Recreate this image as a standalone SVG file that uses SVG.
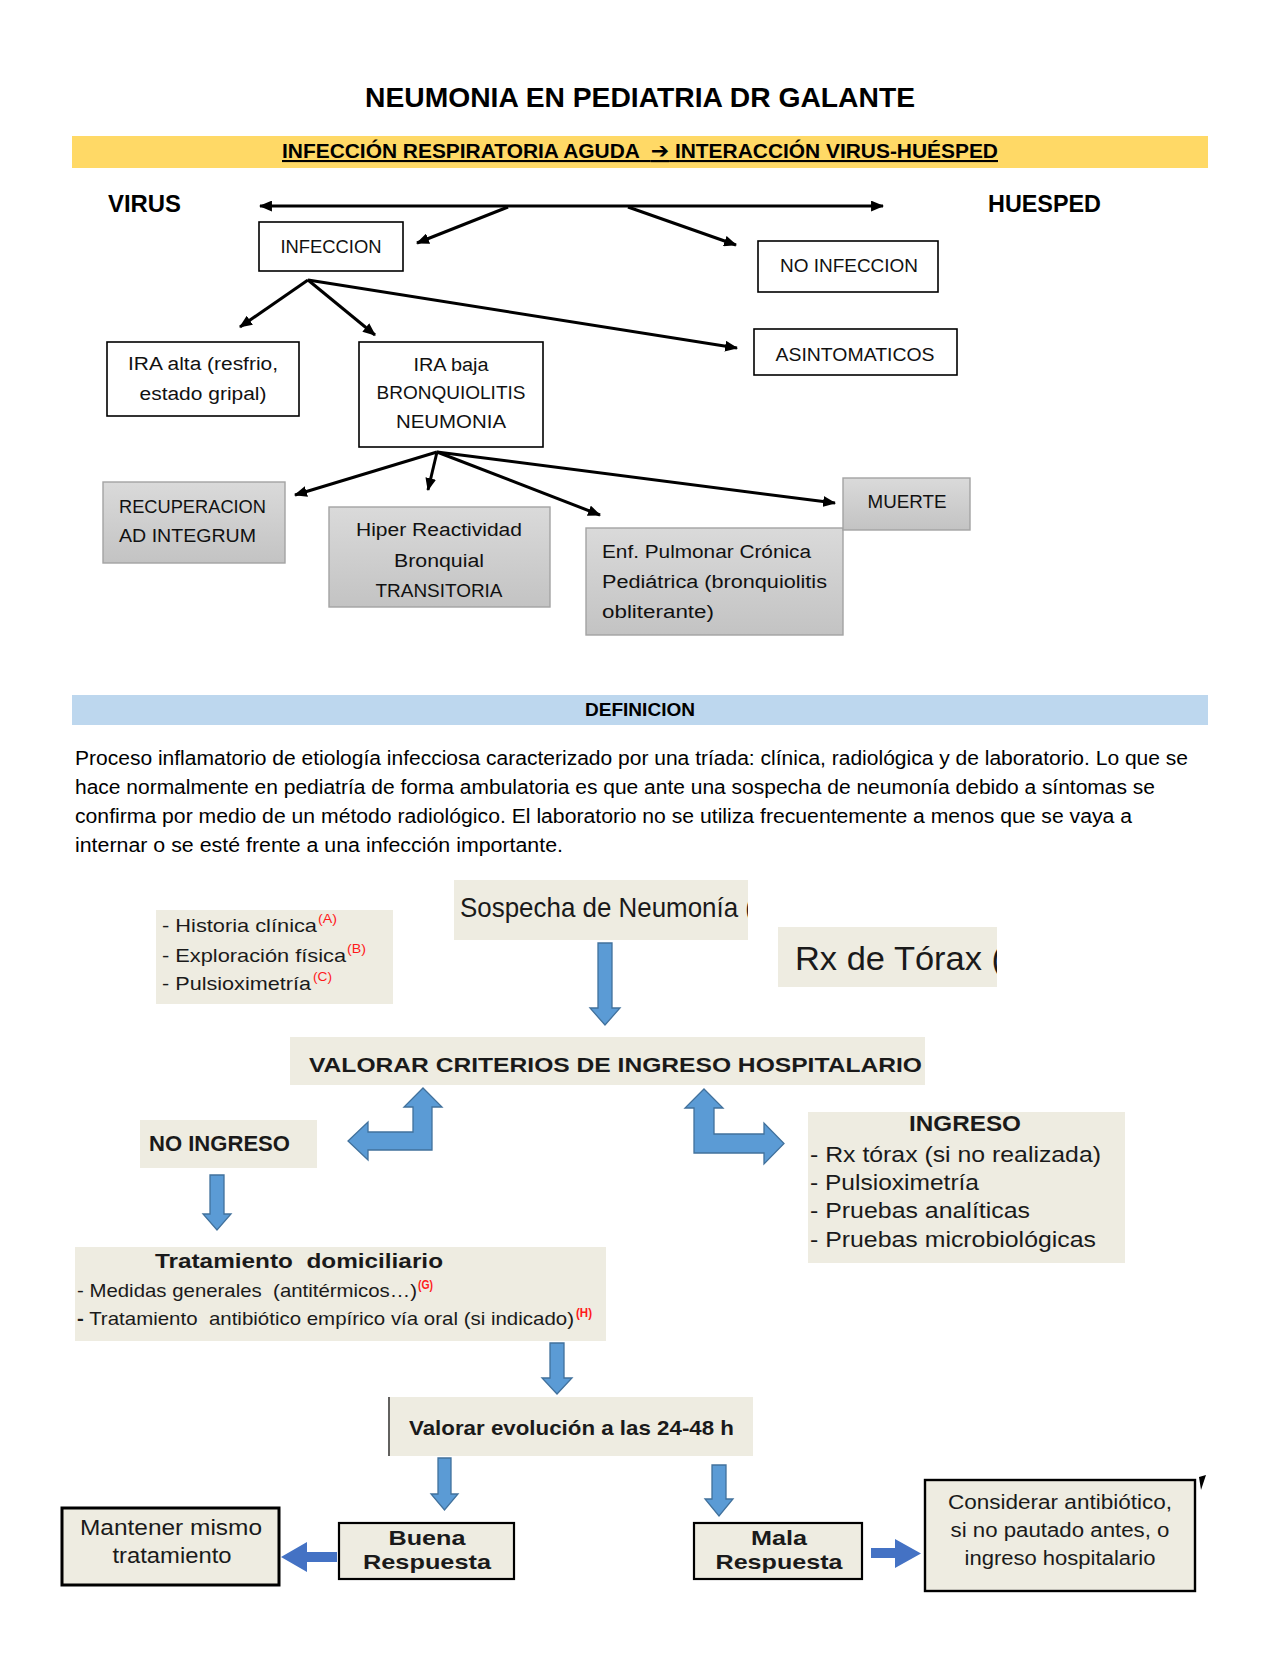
<svg xmlns="http://www.w3.org/2000/svg" width="1280" height="1656" viewBox="0 0 1280 1656">
<defs>
<style>
.t{font-family:"Liberation Sans",Arial,sans-serif;fill:#000}
.b{font-weight:bold}
.box{fill:#fff;stroke:#000;stroke-width:1.6}
.gbox{fill:url(#gray);stroke:#a3a3a3;stroke-width:1.4}
.bg{fill:#EEECE1}
.lbl{font-family:"Liberation Sans",Arial,sans-serif;font-size:18px;fill:#111}
.ar{font-family:"Liberation Sans",Arial,sans-serif;fill:#1a1a1a}
.sup{font-family:"Liberation Sans",Arial,sans-serif;fill:#ff1a1a;font-size:12px}
.conn{stroke:#000;stroke-width:3;fill:none;marker-end:url(#ah)}
.blue{fill:#5B9BD5;stroke:#41719C;stroke-width:1.3}
.blue2{fill:#4472C4}
.bbox{fill:#EEECE1;stroke:#000}
</style>
<linearGradient id="gray" x1="0" y1="0" x2="0" y2="1">
<stop offset="0" stop-color="#dadada"/>
<stop offset="1" stop-color="#c3c3c3"/>
</linearGradient>
<marker id="ah" viewBox="0 0 12 10" refX="11" refY="5" markerWidth="13" markerHeight="11" markerUnits="userSpaceOnUse" orient="auto-start-reverse">
<path d="M0,0 L12,5 L0,10 z" fill="#000"/>
</marker>
<clipPath id="clipSos"><rect x="454" y="880" width="294" height="60"/></clipPath>
<clipPath id="clipRx"><rect x="778" y="927" width="219" height="60"/></clipPath>
</defs>
<rect width="1280" height="1656" fill="#fff"/>

<!-- Header -->
<g id="title">
<text class="t b" x="365" y="107" font-size="28" textLength="550" lengthAdjust="spacingAndGlyphs">NEUMONIA EN PEDIATRIA DR GALANTE</text>
</g>
<g id="band-ira">
<rect x="72" y="136" width="1136" height="32" fill="#FFD966"/>
<text class="t b" x="282" y="158" font-size="21" textLength="716" lengthAdjust="spacingAndGlyphs" xml:space="preserve" text-decoration="underline">INFECCIÓN RESPIRATORIA AGUDA  <tspan font-family="DejaVu Sans" font-size="22">➔</tspan> INTERACCIÓN VIRUS-HUÉSPED</text>
</g>
<g id="virus"><text class="t b" x="108" y="212" font-size="24" textLength="73" lengthAdjust="spacingAndGlyphs">VIRUS</text></g>
<g id="huesped"><text class="t b" x="988" y="212" font-size="24" textLength="113" lengthAdjust="spacingAndGlyphs">HUESPED</text></g>

<!-- Top connectors -->
<g id="connectors-top">
<path class="conn" style="marker-start:url(#ah)" d="M260,206 H883"/>
<path class="conn" d="M508,207 L417,243"/>
<path class="conn" d="M628,207 L736,245"/>
<path class="conn" d="M308,280 L240,327"/>
<path class="conn" d="M308,280 L375,335"/>
<path class="conn" d="M308,280 L737,348"/>
<path class="conn" d="M437,452 L295,495"/>
<path class="conn" d="M437,452 L428,490"/>
<path class="conn" d="M437,452 L600,515"/>
<path class="conn" d="M437,452 L835,503"/>
</g>

<!-- Top nodes -->
<g id="n-infeccion">
<rect class="box" x="259" y="222" width="144" height="49"/>
<text class="lbl" x="331" y="253" text-anchor="middle" textLength="101" lengthAdjust="spacingAndGlyphs">INFECCION</text>
</g>
<g id="n-noinfeccion">
<rect class="box" x="758" y="241" width="180" height="51"/>
<text class="lbl" x="849" y="272" text-anchor="middle" textLength="138" lengthAdjust="spacingAndGlyphs">NO INFECCION</text>
</g>
<g id="n-iraalta">
<rect class="box" x="107" y="342" width="192" height="74"/>
<text class="lbl" x="203" y="370" text-anchor="middle" textLength="150" lengthAdjust="spacingAndGlyphs">IRA alta (resfrio,</text>
<text class="lbl" x="203" y="400" text-anchor="middle" textLength="127" lengthAdjust="spacingAndGlyphs">estado gripal)</text>
</g>
<g id="n-irabaja">
<rect class="box" x="359" y="342" width="184" height="105"/>
<text class="lbl" x="451" y="371" text-anchor="middle" textLength="75" lengthAdjust="spacingAndGlyphs">IRA baja</text>
<text class="lbl" x="451" y="399" text-anchor="middle" textLength="149" lengthAdjust="spacingAndGlyphs">BRONQUIOLITIS</text>
<text class="lbl" x="451" y="428" text-anchor="middle" textLength="110" lengthAdjust="spacingAndGlyphs">NEUMONIA</text>
</g>
<g id="n-asintomaticos">
<rect class="box" x="754" y="329" width="203" height="46"/>
<text class="lbl" x="855" y="361" text-anchor="middle" textLength="159" lengthAdjust="spacingAndGlyphs">ASINTOMATICOS</text>
</g>
<g id="n-recuperacion">
<rect class="gbox" x="103" y="482" width="182" height="81"/>
<text class="lbl" x="119" y="513" textLength="147" lengthAdjust="spacingAndGlyphs">RECUPERACION</text>
<text class="lbl" x="119" y="542" textLength="137" lengthAdjust="spacingAndGlyphs">AD INTEGRUM</text>
</g>
<g id="n-hiper">
<rect class="gbox" x="329" y="507" width="221" height="100"/>
<text class="lbl" x="439" y="536" text-anchor="middle" textLength="166" lengthAdjust="spacingAndGlyphs">Hiper Reactividad</text>
<text class="lbl" x="439" y="567" text-anchor="middle" textLength="90" lengthAdjust="spacingAndGlyphs">Bronquial</text>
<text class="lbl" x="439" y="597" text-anchor="middle" textLength="127" lengthAdjust="spacingAndGlyphs">TRANSITORIA</text>
</g>
<g id="n-enf">
<rect class="gbox" x="586" y="528" width="257" height="107"/>
<text class="lbl" x="602" y="558" textLength="209" lengthAdjust="spacingAndGlyphs">Enf. Pulmonar Crónica</text>
<text class="lbl" x="602" y="588" textLength="225" lengthAdjust="spacingAndGlyphs">Pediátrica (bronquiolitis</text>
<text class="lbl" x="602" y="618" textLength="112" lengthAdjust="spacingAndGlyphs">obliterante)</text>
</g>
<g id="n-muerte">
<rect class="gbox" x="843" y="478" width="127" height="52"/>
<text class="lbl" x="907" y="508" text-anchor="middle" textLength="79" lengthAdjust="spacingAndGlyphs">MUERTE</text>
</g>

<!-- Definition -->
<g id="definicion">
<rect x="72" y="695" width="1136" height="30" fill="#BDD7EE"/>
<text class="t b" x="640" y="716" font-size="18" text-anchor="middle" textLength="110" lengthAdjust="spacingAndGlyphs">DEFINICION</text>
<text class="t" x="75" y="765" font-size="20" textLength="1113" lengthAdjust="spacingAndGlyphs">Proceso inflamatorio de etiología infecciosa caracterizado por una tríada: clínica, radiológica y de laboratorio. Lo que se</text>
<text class="t" x="75" y="794" font-size="20" textLength="1080" lengthAdjust="spacingAndGlyphs">hace normalmente en pediatría de forma ambulatoria es que ante una sospecha de neumonía debido a síntomas se</text>
<text class="t" x="75" y="823" font-size="20" textLength="1057" lengthAdjust="spacingAndGlyphs">confirma por medio de un método radiológico. El laboratorio no se utiliza frecuentemente a menos que se vaya a</text>
<text class="t" x="75" y="852" font-size="20" textLength="488" lengthAdjust="spacingAndGlyphs">internar o se esté frente a una infección importante.</text>
</g>

<!-- Lower flowchart connectors -->
<g id="connectors-bottom">
<path class="blue" d="M598,943 H612 V1008 H620 L605,1025 L590,1008 H598 Z"/>
<path class="blue" d="M423,1088 L442,1107 L432,1107 L432,1150 L368,1150 L368,1160 L348,1141 L368,1122 L368,1132 L413,1132 L413,1107 L404,1107 Z"/>
<path class="blue" d="M704,1089 L723,1108 L714,1108 L714,1134 L764,1134 L764,1123 L784,1143.5 L764,1164 L764,1153 L694,1153 L694,1108 L685,1108 Z"/>
<path class="blue" d="M210,1175 H224 V1214 H231 L217,1230 L203,1214 H210 Z"/>
<path class="blue" d="M550,1343 H564 V1378 H572 L557,1394 L542,1378 H550 Z"/>
<path class="blue" d="M438,1458 H451 V1494 H458 L444.5,1510 L431,1494 H438 Z"/>
<path class="blue" d="M712,1465 H726 V1499 H733 L719,1516 L705,1499 H712 Z"/>
<path class="blue2" d="M337,1552 H307 V1542 L281,1557 L307,1572 V1562 H337 Z"/>
<path class="blue2" d="M871,1548 H895 V1539 L921,1553.5 L895,1568 V1558 H871 Z"/>
</g>

<!-- Lower nodes -->
<g id="n-historia">
<rect class="bg" x="156" y="910" width="237" height="94"/>
<text class="ar" x="162" y="932" font-size="19" textLength="155" lengthAdjust="spacingAndGlyphs">- Historia clínica</text>
<text class="sup" x="318" y="923" textLength="19" lengthAdjust="spacingAndGlyphs">(A)</text>
<text class="ar" x="162" y="962" font-size="19" textLength="184" lengthAdjust="spacingAndGlyphs">- Exploración física</text>
<text class="sup" x="347" y="953" textLength="19" lengthAdjust="spacingAndGlyphs">(B)</text>
<text class="ar" x="162" y="990" font-size="19" textLength="149" lengthAdjust="spacingAndGlyphs">- Pulsioximetría</text>
<text class="sup" x="313" y="981" textLength="19" lengthAdjust="spacingAndGlyphs">(C)</text>
</g>
<g id="n-sospecha">
<rect class="bg" x="454" y="880" width="294" height="60"/>
<text class="ar" x="460" y="917" font-size="28" textLength="294" lengthAdjust="spacingAndGlyphs" clip-path="url(#clipSos)">Sospecha de Neumonía (</text>
</g>
<g id="n-rx">
<rect class="bg" x="778" y="927" width="219" height="60"/>
<text class="ar" x="795" y="970" font-size="33" textLength="208" lengthAdjust="spacingAndGlyphs" clip-path="url(#clipRx)">Rx de Tórax (</text>
</g>
<g id="n-valorar-criterios">
<rect class="bg" x="290" y="1037" width="635" height="48"/>
<text class="ar b" x="309" y="1072" font-size="21" textLength="613" lengthAdjust="spacingAndGlyphs">VALORAR CRITERIOS DE INGRESO HOSPITALARIO</text>
</g>
<g id="n-noingreso">
<rect class="bg" x="140" y="1120" width="177" height="48"/>
<text class="ar b" x="149" y="1151" font-size="22" textLength="141" lengthAdjust="spacingAndGlyphs">NO INGRESO</text>
</g>
<g id="n-ingreso">
<rect class="bg" x="808" y="1112" width="317" height="151"/>
<text class="ar b" x="909" y="1131" font-size="22" textLength="112" lengthAdjust="spacingAndGlyphs">INGRESO</text>
<text class="ar" x="810" y="1162" font-size="22" textLength="291" lengthAdjust="spacingAndGlyphs">- Rx tórax (si no realizada)</text>
<text class="ar" x="810" y="1190" font-size="22" textLength="169" lengthAdjust="spacingAndGlyphs">- Pulsioximetría</text>
<text class="ar" x="810" y="1218" font-size="22" textLength="220" lengthAdjust="spacingAndGlyphs">- Pruebas analíticas</text>
<text class="ar" x="810" y="1247" font-size="22" textLength="286" lengthAdjust="spacingAndGlyphs">- Pruebas microbiológicas</text>
</g>
<g id="n-tratamiento">
<rect class="bg" x="75" y="1247" width="531" height="94"/>
<text class="ar b" x="155" y="1268" font-size="21" textLength="288" lengthAdjust="spacingAndGlyphs" xml:space="preserve">Tratamiento  domiciliario</text>
<text class="ar" x="77" y="1297" font-size="19" textLength="340" lengthAdjust="spacingAndGlyphs" xml:space="preserve">- Medidas generales  (antitérmicos…)</text>
<text class="sup b" x="418" y="1289" textLength="15" lengthAdjust="spacingAndGlyphs">(G)</text>
<text class="ar" x="77" y="1325" font-size="19" textLength="497" lengthAdjust="spacingAndGlyphs" xml:space="preserve"><tspan font-weight="bold">-</tspan> Tratamiento  antibiótico empírico vía oral (si indicado)</text>
<text class="sup b" x="576" y="1317" textLength="16" lengthAdjust="spacingAndGlyphs">(H)</text>
</g>
<g id="n-valorar-evolucion">
<rect class="bg" x="388" y="1397" width="365" height="59"/>
<line x1="389" y1="1397" x2="389" y2="1456" stroke="#333" stroke-width="1.5"/>
<text class="ar b" x="409" y="1435" font-size="21" textLength="325" lengthAdjust="spacingAndGlyphs">Valorar evolución a las 24-48 h</text>
</g>
<g id="n-buena">
<rect class="bbox" x="339" y="1523" width="175" height="56" stroke-width="2.2"/>
<text class="ar b" x="427" y="1545" font-size="21" text-anchor="middle" textLength="77" lengthAdjust="spacingAndGlyphs">Buena</text>
<text class="ar b" x="427" y="1569" font-size="21" text-anchor="middle" textLength="128" lengthAdjust="spacingAndGlyphs">Respuesta</text>
</g>
<g id="n-mala">
<rect class="bbox" x="694" y="1523" width="168" height="56" stroke-width="2.2"/>
<text class="ar b" x="779" y="1545" font-size="21" text-anchor="middle" textLength="56" lengthAdjust="spacingAndGlyphs">Mala</text>
<text class="ar b" x="779" y="1569" font-size="21" text-anchor="middle" textLength="127" lengthAdjust="spacingAndGlyphs">Respuesta</text>
</g>
<g id="n-mantener">
<rect class="bbox" x="62" y="1508" width="217" height="77" stroke-width="3"/>
<text class="ar" x="171" y="1535" font-size="22" text-anchor="middle" textLength="182" lengthAdjust="spacingAndGlyphs">Mantener mismo</text>
<text class="ar" x="172" y="1563" font-size="22" text-anchor="middle" textLength="119" lengthAdjust="spacingAndGlyphs">tratamiento</text>
</g>
<g id="n-considerar">
<rect class="bbox" x="925" y="1480" width="270" height="111" stroke-width="2.4"/>
<text class="ar" x="1060" y="1509" font-size="20" text-anchor="middle" textLength="224" lengthAdjust="spacingAndGlyphs">Considerar antibiótico,</text>
<text class="ar" x="1060" y="1537" font-size="20" text-anchor="middle" textLength="219" lengthAdjust="spacingAndGlyphs">si no pautado antes, o</text>
<text class="ar" x="1060" y="1565" font-size="20" text-anchor="middle" textLength="191" lengthAdjust="spacingAndGlyphs">ingreso hospitalario</text>
<path d="M1199,1477 L1206,1475 L1201,1490 Z" fill="#000"/>
</g>
</svg>
